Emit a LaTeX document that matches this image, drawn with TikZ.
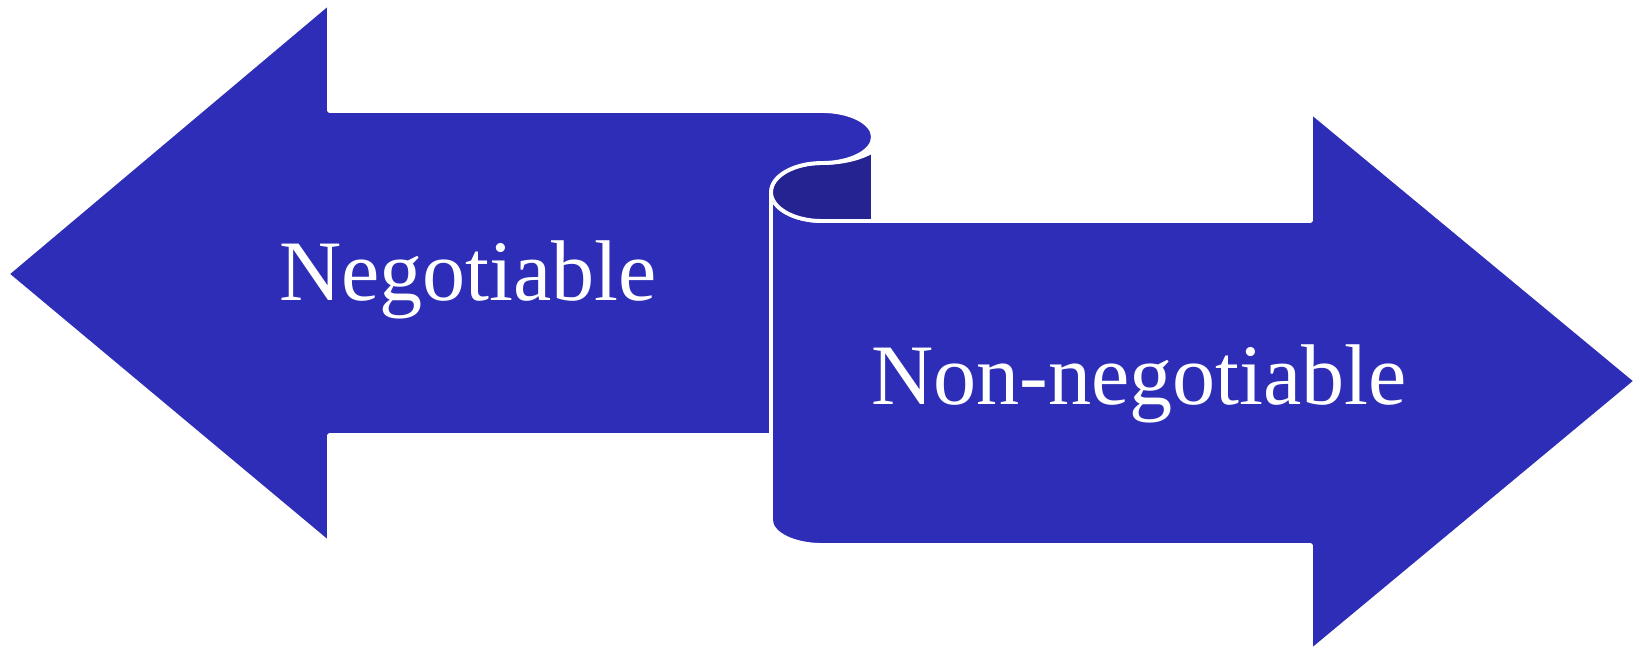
\documentclass[tikz,border=0pt]{standalone}
\usepackage{fontspec}
\setmainfont{Liberation Serif}
\usepackage{xcolor}
\definecolor{scrollblue}{RGB}{46,45,184}
\definecolor{scrolldark}{RGB}{37,35,146}

\begin{document}
\begin{tikzpicture}[x=0.01cm, y=0.01cm,
    arrowbody/.style={fill=scrollblue, draw=white, line width=1.1pt, line join=round},
    curlback/.style={fill=scrolldark, draw=white, line width=1.1pt, line join=round},
    label/.style={text=white, font=\fontsize{24.5}{28}\selectfont, anchor=base, inner sep=0pt}]
  \useasboundingbox (0,0) rectangle (1638,648);
  \draw[arrowbody] (771,456) -- (771,128) arc[start angle=180, end angle=270, x radius=51, y radius=25]
    -- (1311,103) -- (1311,-3) -- (1636,267) -- (1311,536) -- (1311,427) -- (822,427)
    arc[start angle=270, end angle=180, x radius=51, y radius=29] -- cycle;
  \draw[curlback] (822,427) -- (873,427) -- (873,497) .. controls (860,489) and (841,485) .. (822,485)
    arc[start angle=90, end angle=270, x radius=51, y radius=29] -- cycle;
  \draw[arrowbody] (329,537) -- (822,537) arc[start angle=90, end angle=-90, x radius=51, y radius=26]
    arc[start angle=90, end angle=180, x radius=51, y radius=29]
    -- (771,213) -- (329,213) -- (329,105) -- (7,374) -- (329,645) -- cycle;
  \node[label] (neg) at (468,347) {Negotiable};
  \node[label] (nonneg) at (1139,243) {Non-negotiable};
\end{tikzpicture}
\end{document}
